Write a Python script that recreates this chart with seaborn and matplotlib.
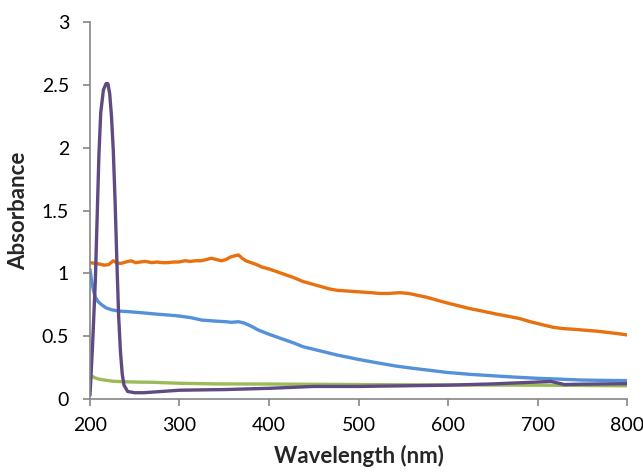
import matplotlib
matplotlib.use("Agg")
import matplotlib.pyplot as plt
import seaborn as sns
import pandas as pd

# ---- data ----
orange_x = [200, 205, 210, 216, 221, 226, 231, 235, 240, 246, 251, 256, 262, 269, 275, 281, 287,
            293, 299, 306, 312, 318, 324, 330, 336, 341, 347, 352, 357, 362, 366, 370, 374, 380,
            386, 392, 400, 410, 418, 428, 438, 448, 458, 468, 476, 486, 496, 506, 516, 524, 534,
            546, 556, 566, 576, 586, 598, 610, 624, 638, 654, 666, 680, 692, 706, 718, 729, 740,
            752, 766, 778, 790, 800]
orange_y = [1.085, 1.08, 1.075, 1.065, 1.07, 1.10, 1.08, 1.08, 1.09, 1.10, 1.085, 1.09, 1.095,
            1.085, 1.09, 1.085, 1.085, 1.09, 1.09, 1.10, 1.095, 1.10, 1.10, 1.11, 1.12, 1.11,
            1.10, 1.11, 1.13, 1.14, 1.146, 1.12, 1.10, 1.085, 1.07, 1.05, 1.035, 1.01, 0.99, 0.965,
            0.935, 0.915, 0.895, 0.875, 0.865, 0.86, 0.855, 0.85, 0.845, 0.84, 0.84, 0.846, 0.84,
            0.825, 0.81, 0.79, 0.766, 0.745, 0.72, 0.70, 0.676, 0.66, 0.64, 0.615, 0.59, 0.57,
            0.56, 0.555, 0.548, 0.54, 0.53, 0.52, 0.51]

blue_x = [200, 202, 204, 206, 209, 213, 218, 224, 232, 243, 260, 275, 288, 300, 312, 325, 340,
          352, 358, 366, 372, 380, 388, 400, 410, 418, 428, 438, 456, 476, 500, 524, 542, 561,
          580, 598, 625, 654, 675, 699, 725, 748, 775, 800]
blue_y = [1.03, 0.93, 0.86, 0.81, 0.775, 0.75, 0.725, 0.71, 0.70, 0.695, 0.685, 0.675, 0.668,
          0.66, 0.648, 0.628, 0.62, 0.615, 0.61, 0.615, 0.605, 0.58, 0.549, 0.515, 0.49, 0.47,
          0.445, 0.416, 0.385, 0.35, 0.315, 0.284, 0.262, 0.244, 0.228, 0.212, 0.196, 0.183,
          0.174, 0.165, 0.158, 0.151, 0.148, 0.146]

green_x = [200, 205, 210, 217, 225, 235, 250, 270, 300, 343, 400, 450, 500, 550, 600, 650, 700,
           750, 800]
green_y = [0.19, 0.17, 0.158, 0.15, 0.142, 0.138, 0.135, 0.133, 0.125, 0.12, 0.119, 0.117,
           0.115, 0.113, 0.112, 0.111, 0.11, 0.108, 0.105]

purple_x = [200, 203, 206, 208, 210, 212, 215, 218, 220, 222, 224, 226, 228, 230, 232, 234, 236,
            238, 242, 250, 260, 280, 300, 350, 400, 450, 500, 550, 600, 650, 700, 715, 730, 750,
            800]
purple_y = [0.03, 0.45, 0.95, 1.45, 1.95, 2.28, 2.46, 2.51, 2.51, 2.43, 2.25, 1.98, 1.58, 1.1,
            0.66, 0.38, 0.2, 0.11, 0.06, 0.05, 0.05, 0.06, 0.07, 0.075, 0.085, 0.1, 0.1, 0.105,
            0.11, 0.12, 0.135, 0.14, 0.115, 0.118, 0.122]

x_ticks = [200, 300, 400, 500, 600, 700, 800]
y_ticks = [0, 0.5, 1, 1.5, 2, 2.5, 3]
y_tick_labels = ["0", "0.5", "1", "1.5", "2", "2.5", "3"]

sns.set_style("white")
plt.rcParams["font.family"] = ["Lato", "DejaVu Sans"]

fig = plt.figure(figsize=(6.43, 4.74), dpi=100)
ax = fig.add_axes([90 / 643, 1 - 399 / 474, (627 - 90) / 643, (399 - 22) / 474])

series = [
    (orange_x, orange_y, "#E8700E"),
    (blue_x, blue_y, "#5590DA"),
    (green_x, green_y, "#9BBB59"),
    (purple_x, purple_y, "#5F4A82"),
]
for xs, ys, c in series:
    df = pd.DataFrame({"x": xs, "y": ys})
    sns.lineplot(data=df, x="x", y="y", ax=ax, color=c, linewidth=2.4, sort=False,
                 estimator=None)

ax.set_xlim(200, 800)
ax.set_ylim(0, 3)
ax.set_xticks(x_ticks)
ax.set_xticklabels([str(v) for v in x_ticks])
ax.set_yticks(y_ticks)
ax.set_yticklabels(y_tick_labels)

for s in ["top", "right"]:
    ax.spines[s].set_visible(False)
for s in ["left", "bottom"]:
    ax.spines[s].set_color("#868686")
    ax.spines[s].set_linewidth(1.2)

ax.tick_params(axis="both", which="major", direction="out", length=5, width=1.2,
               color="#868686", labelsize=14, labelcolor="black", left=True, bottom=True)
ax.tick_params(axis="x", pad=8)
ax.tick_params(axis="y", pad=10)

ax.set_xlabel("Wavelength (nm)", fontsize=16, fontweight="bold", labelpad=8)
ax.set_ylabel("Absorbance", fontsize=16, fontweight="bold", labelpad=9)

fig.savefig("out.png", dpi=100)
